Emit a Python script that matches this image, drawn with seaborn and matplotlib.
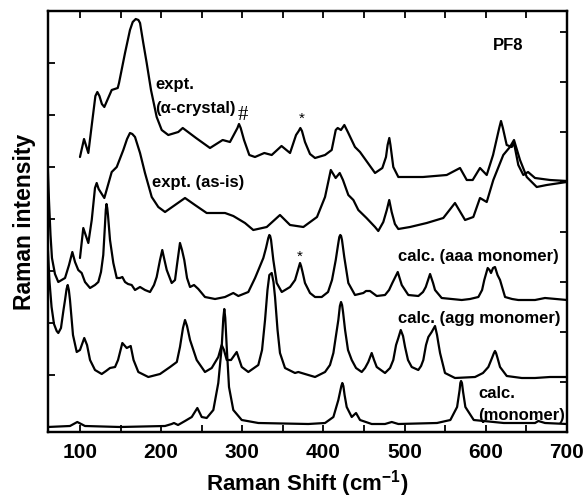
import matplotlib
matplotlib.use("Agg")
import matplotlib.pyplot as plt
import pandas as pd
import seaborn as sns
from matplotlib.ticker import MultipleLocator

# ---------------- data ----------------
spectrum_names = ["expt. (alpha-crystal)", "expt. (as-is)", "calc. (aaa monomer)",
                  "calc. (agg monomer)", "calc. (monomer)"]

crystal_x = [100.0, 105.0, 110.3, 115.0, 119.0, 121.4, 124.0, 127.0, 130.0, 139.1, 146.5, 148.1,
             155.5, 161.6, 165.0, 168.7, 172.0, 174.0,
             178.0, 182.2, 187.5, 194.5, 200.7, 208.8, 221.1, 226.6, 243.0, 260.2, 275.8, 284.8,
             294.0, 295.9, 298.0, 302.1, 308.6, 315.6, 327.1, 336.2, 348.3, 358.8, 366.2, 369.5,
             371.5, 373.5, 377.2, 383.4,
             389.6, 401.9, 410.1, 415.1, 417.5, 421.5, 425.7, 430.0, 438.8, 445.0, 463.5, 472.5,
             477.0, 479.0, 481.1, 482.5, 486.0, 492.2, 522.6, 551.8, 568.2, 576.5, 583.8, 592.8,
             601.1, 608.9, 616.5, 618.7, 621.0, 625.7, 631.9, 634.7, 640.0, 646.2, 652.0, 660.6,
             679.1, 700.0]
crystal_y = [275, 293, 279, 310, 336, 340, 336, 328, 325, 342, 344, 349,
             379, 402, 410, 413, 412, 409,
             389, 369, 342, 315, 302, 297, 300, 304, 294, 284, 292, 290,
             304, 308, 304, 292, 277, 275, 279, 277, 286, 279, 297, 301,
             304, 301, 290, 278,
             274, 277, 282, 302, 304, 302, 307, 300, 285, 280, 259, 264,
             275, 287, 294, 287, 265, 255, 255, 257, 264, 252, 252, 264,
             257, 277, 304, 311, 304, 287, 285, 289, 267, 257, 260, 254,
             252, 251]

asis_x = [100.0, 104.1, 110.3, 114.5, 118.5, 120.6, 123.0, 130.0, 139.1, 145.3, 153.4, 158.0,
          161.6, 164.5, 167.8, 174.0,
          180.1, 188.4, 196.5, 204.8, 217.1, 229.4, 241.7, 256.1, 270.4, 278.7, 288.9, 303.3,
          313.5, 330.1, 346.4, 358.8, 375.2, 392.0, 401.9, 409.0, 415.0, 420.0, 424.0, 430.6,
          436.8, 442.9, 453.0, 463.5, 467.5, 473.7, 478.0, 481.0, 484.0, 488.0, 492.2, 506.6,
          527.2, 547.6, 562.0, 574.4, 584.6, 592.8, 601.1, 609.2, 621.5, 629.7, 634.7, 642.1,
          650.4, 662.7, 675.0, 699.6]
asis_y = [174, 204, 189, 212, 244, 249, 243, 234, 260, 265, 282, 293,
          299, 298, 295, 279,
          259, 235, 225, 220, 227, 234, 227, 219, 219, 219, 216, 209,
          202, 205, 217, 207, 205, 215, 235, 262, 254, 259, 252, 237,
          232, 222, 214, 205, 201, 210, 222, 232, 220, 208, 203, 205,
          209, 214, 229, 212, 215, 234, 230, 252, 277, 285, 292, 272,
          255, 245, 247, 250]

aaa_x = [60.0, 61.8, 63.7, 65.5, 69.2, 73.3, 81.6, 86.5, 90.6, 93.9, 97.9, 102.1, 106.2,
         112.4, 118.5, 122.6, 125.9, 128.7, 130.8, 131.8, 132.7, 133.6, 134.5, 137.0, 141.1,
         145.3, 149.3,
         152.2, 155.5, 159.2, 163.7, 167.8, 174.0, 180.1, 186.3, 191.2, 194.5, 198.6, 201.4,
         204.1, 206.9, 213.0, 217.1, 219.5, 223.2, 225.7, 228.5, 231.9, 235.6, 240.5, 245.8,
         254.0, 266.4, 278.7, 288.9, 295.1, 307.4, 315.7, 319.8, 325.9, 329.2, 332.0, 333.3,
         334.3, 335.4,
         338.2, 342.4, 348.6, 358.8, 365.0, 370.0, 371.1, 372.4, 374.2, 377.2, 383.4, 389.6,
         397.8, 405.6,
         410.5, 415.1, 417.9, 419.5, 420.7, 421.7, 422.8, 425.6, 430.6, 438.8, 449.1, 452.4,
         457.3, 465.6,
         475.8, 480.8, 484.8, 491.5, 496.4, 504.5, 516.9, 522.6, 526.0, 531.3, 535.0, 537.4,
         545.6, 570.3, 580.5, 590.8, 595.4, 598.1, 602.3, 604.6, 606.4, 608.9, 611.3, 614.4,
         617.5, 623.7, 632.3, 640.0, 660.6, 672.9, 700.0]
aaa_y = [272, 232, 197, 174, 158, 150, 154, 167, 180, 170, 162, 159, 150,
         144, 147, 150, 160, 177, 207, 222, 228, 224, 217, 192, 169,
         154, 154,
         155, 150, 148, 147, 142, 145, 142, 140, 147, 155, 172, 182,
         172, 162, 149, 152, 167, 189, 182, 172, 154, 145, 147, 143,
         135, 133, 135, 139, 136, 140, 154, 162, 174, 184, 194, 197,
         196, 192,
         172, 149, 140, 145, 152, 166, 169, 166, 160, 149, 139, 135,
         135, 140,
         152, 172, 187, 195, 197, 196, 192, 175, 149, 137, 139, 141,
         141, 136,
         137, 142, 149, 160, 147, 137, 136, 140, 145, 158, 149, 142,
         134, 132, 133, 135, 142, 152, 164, 162, 159, 164, 165, 157,
         152, 135, 133, 132, 132, 134, 132]

agg_x = [60.0, 62.5, 65.0, 68.0, 71.3, 73.3, 76.6, 79.7, 81.6, 83.5, 84.9, 86.3, 87.7, 91.4,
         96.0,
         100.0, 105.3, 108.7, 112.4, 118.5, 126.8, 132.1, 137.0, 143.2, 146.9, 152.2, 157.6,
         162.5, 166.0, 171.9, 184.2, 198.6, 211.0, 219.3, 223.2, 226.9, 229.4, 231.9, 235.6,
         243.8, 254.0, 262.3, 270.4, 274.6, 277.4, 280.8, 286.1, 293.1, 299.3, 307.4, 319.7,
         324.3, 328.0, 331.0, 333.3, 336.2, 338.4, 340.3, 343.4, 346.4, 352.6, 364.9, 369.0,
         377.2, 389.6, 401.9, 408.0, 412.2, 415.5, 418.3, 420.2, 421.6, 422.9, 424.1, 426.6,
         430.2, 434.8,
         440.1, 447.1, 451.2, 455.2, 459.4, 462.3, 465.6, 475.8, 482.0, 486.0, 489.4, 492.2,
         495.2, 498.0, 500.5, 504.1, 508.7, 516.8, 520.2, 523.0, 526.3, 529.2, 533.3, 537.4,
         539.9, 541.5, 543.6, 549.7, 562.0, 586.7, 596.5, 603.1, 607.6, 610.0, 611.3, 612.6,
         614.4, 617.5,
         625.8, 644.3, 660.6, 679.0, 700.0]
agg_y = [190, 150, 125, 108, 101, 99, 104, 122, 132, 143, 147, 142, 132, 97,
         80,
         82, 94, 87, 72, 62, 58, 61, 64, 65, 72, 89, 84,
         86, 72, 60, 55, 58, 65, 70, 85, 104, 112, 106, 92,
         72, 60, 64, 75, 87, 82, 72, 72, 80, 65, 60, 67,
         82, 112, 142, 157, 159, 150, 135, 102, 79, 64, 59, 60,
         58, 55, 60, 67, 79, 97, 112, 126, 130, 127, 120, 102,
         82, 72,
         64, 60, 64, 70, 79, 72, 65, 59, 64, 72, 87, 94,
         102, 96, 85, 72, 65, 62, 66, 72, 87, 95, 100, 106,
         97, 89, 79, 59, 54, 55, 59, 65, 74, 79, 81, 79,
         74, 65,
         56, 54, 54, 55, 55]

mono_x = [60.0, 87.7, 96.7, 106.2, 149.3, 204.8, 213.0, 215.8, 220.8, 229.4, 237.7, 244.6,
          250.0, 256.1, 264.3, 270.4, 274.6, 276.6, 277.8, 279.0, 280.8, 283.6, 288.9, 299.3,
          319.7, 381.3,
          401.9, 412.2, 418.3, 422.0, 423.2, 424.5, 426.0, 428.6, 434.8, 440.1, 445.0, 459.4,
          475.8, 484.1,
          492.2, 539.9, 556.3, 564.6, 567.7, 568.6, 569.5, 570.6, 572.0, 574.8, 585.1, 622.1,
          660.6, 664.7,
          672.9, 700.0]
mono_y = [5, 6, 10, 6, 5, 6, 8, 9, 7, 11, 15, 24,
          15, 14, 22, 49, 85, 114, 123, 114, 85, 45, 22, 12,
          9, 8,
          9, 15, 32, 46, 49, 46, 37, 25, 15, 19, 12, 8,
          8, 10,
          8, 9, 12, 25, 42, 49, 51, 49, 40, 25, 12, 9,
          9, 11,
          9, 8]

x_ticks = [100, 200, 300, 400, 500, 600, 700]
left_y_ticks = [57, 109, 161, 213, 265, 317, 369]
right_y_ticks = [50, 100, 150, 200, 250, 300, 350, 400]

# ---------------- figure ----------------
sns.set_style("ticks", {"axes.edgecolor": "black", "text.color": "black",
                        "xtick.color": "black", "ytick.color": "black",
                        "axes.labelcolor": "black"})
plt.rcParams["font.family"] = ["Liberation Sans", "DejaVu Sans"]
plt.rcParams["mathtext.fontset"] = "custom"
plt.rcParams["mathtext.rm"] = "Liberation Sans:bold"
plt.rcParams["mathtext.bf"] = "Liberation Sans:bold"
plt.rcParams["mathtext.it"] = "Liberation Sans:bold"

fig = plt.figure(figsize=(5.88, 4.98), dpi=100)
ax = fig.add_axes([47.5 / 588, 66 / 498, 519.5 / 588, 421 / 498])

series = [(crystal_x, crystal_y), (asis_x, asis_y), (aaa_x, aaa_y), (agg_x, agg_y), (mono_x, mono_y)]
frames = []
for name, (xs, ys) in zip(spectrum_names, series):
    frames.append(pd.DataFrame({"shift": xs, "intensity": ys, "spectrum": name}))
df = pd.concat(frames, ignore_index=True)

sns.lineplot(data=df, x="shift", y="intensity", hue="spectrum",
             palette={n: "black" for n in spectrum_names}, estimator=None,
             sort=False, legend=False, linewidth=1.6, ax=ax)
for ln in ax.get_lines():
    ln.set_solid_joinstyle("round")

ax.set_xlim(60, 700)
ax.set_ylim(0, 421)
ax.set_xticks(x_ticks)
ax.xaxis.set_minor_locator(MultipleLocator(50))
ax.set_yticks(left_y_ticks)
ax.set_yticklabels([])
ax.tick_params(axis="x", which="both", direction="in", length=5, width=1.3,
               top=True, labelsize=15, pad=8)
ax.tick_params(axis="y", which="both", direction="in", length=5, width=1.3)
for lab in ax.get_xticklabels():
    lab.set_fontweight("bold")
for sp in ax.spines.values():
    sp.set_linewidth(1.6)

ax2 = ax.twinx()
ax2.set_ylim(0, 421)
ax2.set_yticks(right_y_ticks)
ax2.tick_params(axis="y", direction="in", length=5, width=1.3, labelright=False)
for sp in ax2.spines.values():
    sp.set_linewidth(1.6)

ax.set_xlabel(r"Raman Shift (cm$^{\mathbf{-1}}$)", fontsize=16, fontweight="bold", labelpad=4)
ax.set_ylabel("Raman intensity", fontsize=16.5, fontweight="bold")
ax.yaxis.set_label_coords(-0.022, 0.5)

bold = dict(fontsize=12, fontweight="bold", ha="left", va="center")
ax.text(192.4, 347, "expt.", **bold)
ax.text(192.4, 324, "(α-crystal)", **bold)
ax.text(188.7, 249, "expt. (as-is)", **bold)
ax.text(608.7, 386, "PF8", **bold)
ax.text(491.8, 175, "calc. (aaa monomer)", **bold)
ax.text(491.8, 114, "calc. (agg monomer)", **bold)
ax.text(590.4, 39, "calc.", **bold)
ax.text(590.4, 17, "(monomer)", **bold)
ax.text(301, 317, "#", fontsize=15, family="Liberation Serif", ha="center", va="center")
ax.text(373, 313, "*", fontsize=11, ha="center", va="center")
ax.text(371, 175, "*", fontsize=11, ha="center", va="center")

fig.savefig("out.png", dpi=100)
